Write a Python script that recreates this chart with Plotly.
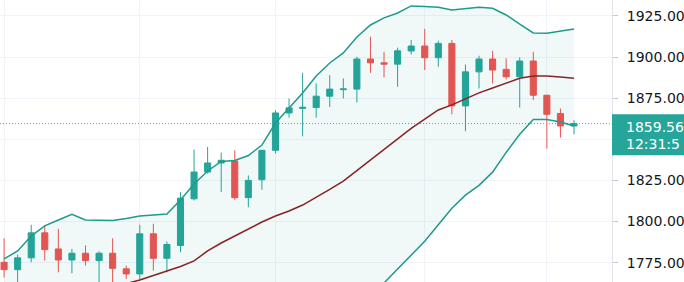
import plotly.graph_objects as go

# ---------------- data ----------------
idx = list(range(43))
opens = [1775.2, 1770.7, 1777.9, 1793.1, 1783.3, 1776.6, 1780.7, 1776.2, 1780.7, 1771.2,
         1768.1, 1792.5, 1777.6, 1785.4, 1813.8, 1830.1, 1835.6, 1836.8, 1814.5, 1825.4,
         1843.3, 1866.0, 1868.8, 1869.3, 1876.2, 1880.2, 1880.5, 1898.8, 1896.5, 1895.7,
         1903.7, 1906.7, 1899.6, 1908.3, 1870.3, 1891.0, 1898.8, 1892.5, 1888.0, 1897.6,
         1876.8, 1865.7, 1858.1]
highs = [1789.8, 1779.9, 1798.0, 1797.6, 1795.5, 1783.3, 1785.4, 1781.9, 1789.8, 1773.2,
         1798.0, 1798.6, 1787.8, 1817.9, 1843.7, 1845.3, 1841.9, 1843.3, 1828.0, 1843.5,
         1867.7, 1874.8, 1890.4, 1884.0, 1889.0, 1887.0, 1900.2, 1912.4, 1903.2, 1905.7,
         1910.4, 1917.1, 1909.9, 1910.4, 1895.5, 1900.8, 1903.8, 1899.2, 1899.8, 1903.2,
         1877.0, 1868.7, 1861.6]
lows = [1765.9, 1758.0, 1775.2, 1776.2, 1769.1, 1768.5, 1773.2, 1755.0, 1758.0, 1765.0,
        1765.0, 1770.1, 1769.1, 1781.3, 1812.8, 1829.1, 1817.9, 1813.2, 1808.7, 1819.3,
        1841.3, 1863.2, 1851.8, 1863.2, 1869.7, 1874.8, 1872.4, 1890.4, 1887.6, 1881.9,
        1901.6, 1892.1, 1894.1, 1865.1, 1854.9, 1880.9, 1884.0, 1886.4, 1869.3, 1873.8,
        1844.3, 1851.0, 1853.0]
closes = [1770.7, 1777.9, 1793.1, 1782.9, 1776.6, 1780.7, 1776.2, 1780.7, 1771.5, 1768.1,
          1792.5, 1777.6, 1786.0, 1814.2, 1830.1, 1835.6, 1837.2, 1814.5, 1825.0, 1843.3,
          1866.0, 1869.1, 1869.4, 1876.2, 1880.5, 1880.6, 1898.8, 1896.5, 1895.7, 1903.8,
          1906.7, 1899.6, 1908.3, 1870.3, 1891.0, 1898.8, 1892.1, 1888.0, 1897.6, 1876.8,
          1865.2, 1858.1, 1859.56]

bb_upper = [1777.2, 1782.1, 1791.2, 1797.3, 1800.9, 1804.4, 1800.9, 1800.6, 1800.6, 1801.8,
            1803.3, 1804.0, 1804.6, 1813.1, 1822.8, 1830.7, 1836.5, 1837.1, 1840.1, 1846.5,
            1859.9, 1869.0, 1878.2, 1888.5, 1896.4, 1902.5, 1912.2, 1919.5, 1923.8, 1926.8,
            1931.1, 1930.7, 1930.3, 1928.6, 1929.6, 1930.3, 1929.7, 1925.6, 1920.1, 1914.7,
            1914.5, 1915.9, 1917.1]
bb_basis = [1741.0, 1743.5, 1746.0, 1748.5, 1751.0, 1753.5, 1756.0, 1758.0, 1760.0, 1762.3,
            1764.4, 1767.2, 1769.9, 1772.6, 1776.0, 1782.1, 1786.9, 1791.2, 1795.4, 1799.7,
            1803.3, 1806.4, 1810.0, 1814.6, 1819.5, 1824.6, 1831.0, 1837.4, 1843.5, 1850.2,
            1856.6, 1862.3, 1867.8, 1870.9, 1874.5, 1878.2, 1881.2, 1884.2, 1887.1, 1888.5,
            1888.5, 1887.9, 1887.1]
bb_lower = [1704.8, 1704.9, 1700.8, 1699.7, 1701.1, 1702.6, 1711.1, 1715.4, 1719.4, 1722.8,
            1725.5, 1730.4, 1735.2, 1732.1, 1729.2, 1733.5, 1737.3, 1745.3, 1750.7, 1752.9,
            1746.7, 1743.8, 1741.8, 1740.7, 1742.6, 1746.7, 1749.8, 1755.3, 1762.6, 1771.0,
            1779.0, 1788.0, 1798.0, 1808.0, 1816.0, 1822.0, 1830.0, 1842.0, 1853.0, 1862.0,
            1862.0, 1860.5, 1858.1]

price_ticks = [1775, 1800, 1825, 1850, 1875, 1900, 1925]
price_tick_text = ["1775.00", "1800.00", "1825.00", "", "1875.00", "1900.00", "1925.00"]
time_grid = [0, 10, 20, 31, 40]
countdown_text = "12:31:5"

# ---------------- style ----------------
GREEN = "#26a69a"
RED = "#ef5350"
BAND = "#1e9a8f"
BASIS = "#872323"
GRID = "#f0f3fa"
TEXT = "#131722"
FONT = "DejaVu Sans"

fig = go.Figure()
fig.add_trace(go.Scatter(x=idx, y=bb_lower, mode="lines",
                         line=dict(color=BAND, width=1.5), hoverinfo="skip"))
fig.add_trace(go.Scatter(x=idx, y=bb_upper, mode="lines", fill="tonexty",
                         fillcolor="rgba(25,135,135,0.06)",
                         line=dict(color=BAND, width=1.5), hoverinfo="skip"))
fig.add_trace(go.Scatter(x=idx, y=bb_basis, mode="lines",
                         line=dict(color=BASIS, width=1.5), hoverinfo="skip"))
fig.add_trace(go.Candlestick(
    x=idx, open=opens, high=highs, low=lows, close=closes,
    increasing=dict(line=dict(color=GREEN, width=1), fillcolor=GREEN),
    decreasing=dict(line=dict(color=RED, width=1), fillcolor=RED),
    whiskerwidth=0,
))

last = closes[-1]
fig.add_shape(type="line", xref="paper", x0=0, x1=1.2, yref="y", y0=last, y1=last,
              line=dict(color="rgba(38,166,154,0.85)", width=1, dash="1px,2px"),
              layer="below")
fig.add_shape(type="rect", xref="paper", x0=1, x1=1.2, yref="y",
              y0=last - 19.3, y1=last + 5.7, fillcolor=GREEN, line=dict(width=0),
              layer="above")
fig.add_annotation(xref="paper", x=1, xanchor="left", xshift=12, yref="y", y=last,
                   yanchor="middle", yshift=-3, text=f"{last:.2f}", showarrow=False,
                   font=dict(family=FONT, size=14, color="white"))
fig.add_annotation(xref="paper", x=1, xanchor="left", xshift=12, yref="y", y=last,
                   yanchor="middle", yshift=-20, text=countdown_text, showarrow=False,
                   font=dict(family=FONT, size=14, color="white"))

fig.update_layout(
    width=684, height=282,
    margin=dict(l=0, r=72, t=0, b=0),
    paper_bgcolor="white", plot_bgcolor="white",
    showlegend=False,
    boxgap=0.36,
    xaxis=dict(range=[-0.3, 44.8], tickvals=time_grid, showticklabels=False,
               showgrid=True, gridcolor=GRID, gridwidth=1, zeroline=False,
               rangeslider=dict(visible=False), fixedrange=True),
    yaxis=dict(side="right", range=[1763.2, 1934.7], tickvals=price_ticks,
               ticktext=price_tick_text, showgrid=True, gridcolor=GRID, gridwidth=1,
               zeroline=False, showline=True, linecolor="#e0e3eb", linewidth=1,
               ticks="outside", ticklen=5, tickcolor="#c5c8d0",
               ticklabelstandoff=6,
               tickfont=dict(family=FONT, size=14, color=TEXT)),
)

fig.write_html("out.html")
